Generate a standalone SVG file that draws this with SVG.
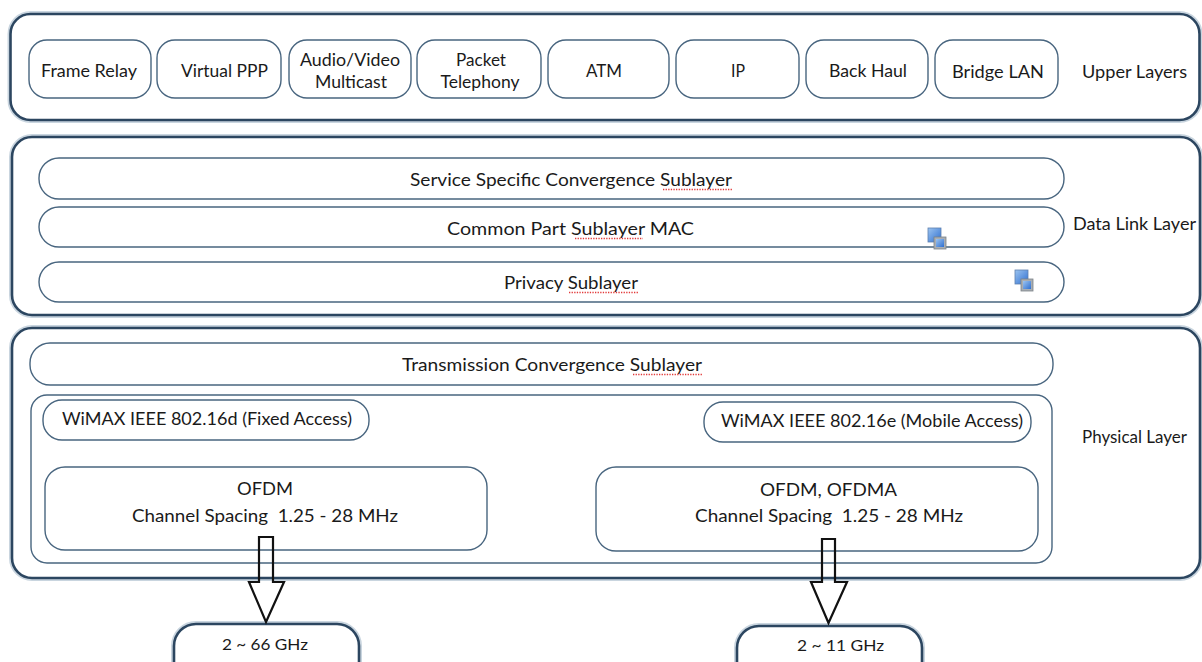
<svg xmlns="http://www.w3.org/2000/svg" width="1202" height="662" viewBox="0 0 1202 662">
<defs>
<style>
.outer{fill:#fff;stroke:#2c4660;stroke-width:2.6}
.glow{fill:none;stroke:#c9d5df;stroke-width:6}
.box{fill:#fff;stroke:#48657f;stroke-width:1.4}
.t{font-family:Lato,"Open Sans","Noto Sans",sans-serif;fill:#1a1a1a;text-anchor:middle;font-size:17px}
.tu{font-size:18px}
.tb{font-size:16px}
.sq{stroke:#e23a3a;stroke-width:1.3;stroke-dasharray:1.3 1.3;fill:none}
.arrow{fill:none;stroke:#111;stroke-width:2.2;stroke-linejoin:miter}
</style>
<linearGradient id="ib" x1="0" y1="0" x2="1" y2="1">
<stop offset="0" stop-color="#9cc4f0"/><stop offset="1" stop-color="#2f6fd0"/>
</linearGradient>
<g id="icon">
<rect x="0" y="0" width="13" height="14" fill="url(#ib)" stroke="#5d7fae" stroke-width="0.8"/>
<rect x="6" y="9" width="12" height="12" fill="#a9aeb3" stroke="#7c8287" stroke-width="0.8"/>
<rect x="8" y="11" width="8" height="8" fill="url(#ib)"/>
</g>
</defs>
<rect width="1202" height="662" fill="#fff"/>

<g id="upper-layers">
<rect class="glow" x="10.5" y="14" width="1189" height="106" rx="20"/>
<rect class="outer" x="10.5" y="14" width="1189" height="106" rx="20"/>
<text class="t" x="1134.5" y="78" textLength="105" lengthAdjust="spacingAndGlyphs">Upper Layers</text>
</g>
<g id="frame-relay"><rect class="box" x="29" y="40" width="122" height="58" rx="18"/><text class="t tu" x="89" y="77" textLength="96" lengthAdjust="spacingAndGlyphs">Frame Relay</text></g>
<g id="virtual-ppp"><rect class="box" x="157" y="40" width="124" height="58" rx="18"/><text class="t tu" x="224.5" y="77" textLength="87" lengthAdjust="spacingAndGlyphs">Virtual PPP</text></g>
<g id="audio-video"><rect class="box" x="289" y="40" width="122" height="58" rx="18"/><text class="t tu" x="350" y="66" textLength="100" lengthAdjust="spacingAndGlyphs">Audio/Video</text><text class="t" x="351" y="88" textLength="72" lengthAdjust="spacingAndGlyphs">Multicast</text></g>
<g id="packet-telephony"><rect class="box" x="417" y="40" width="124" height="58" rx="18"/><text class="t tu" x="481" y="66" textLength="50" lengthAdjust="spacingAndGlyphs">Packet</text><text class="t" x="480" y="88" textLength="79" lengthAdjust="spacingAndGlyphs">Telephony</text></g>
<g id="atm"><rect class="box" x="548" y="40" width="121" height="58" rx="18"/><text class="t tu" x="604" y="77" textLength="36" lengthAdjust="spacingAndGlyphs">ATM</text></g>
<g id="ip"><rect class="box" x="676" y="40" width="123" height="58" rx="18"/><text class="t tu" x="738" y="77" textLength="14" lengthAdjust="spacingAndGlyphs">IP</text></g>
<g id="back-haul"><rect class="box" x="806" y="40" width="122" height="58" rx="18"/><text class="t tu" x="868" y="77" textLength="78" lengthAdjust="spacingAndGlyphs">Back Haul</text></g>
<g id="bridge-lan"><rect class="box" x="935" y="40" width="123" height="58" rx="18"/><text class="t tu" x="998" y="78" textLength="92" lengthAdjust="spacingAndGlyphs">Bridge LAN</text></g>

<g id="data-link-layer">
<rect class="glow" x="12" y="137" width="1188" height="178" rx="20"/>
<rect class="outer" x="12" y="137" width="1188" height="178" rx="20"/>
<text class="t" x="1134.5" y="230" textLength="123" lengthAdjust="spacingAndGlyphs">Data Link Layer</text>
</g>
<g id="service-specific"><rect class="box" x="39" y="158" width="1025" height="41" rx="20"/><text class="t" x="571" y="186" textLength="322" lengthAdjust="spacingAndGlyphs">Service Specific Convergence Sublayer</text><path class="sq" d="M663 189.5H732"/></g>
<g id="common-part"><rect class="box" x="39" y="207" width="1025" height="40" rx="20"/><text class="t" x="570.5" y="235" textLength="247" lengthAdjust="spacingAndGlyphs">Common Part Sublayer MAC</text><path class="sq" d="M575 238.5H643"/><use href="#icon" x="928" y="228"/></g>
<g id="privacy"><rect class="box" x="39" y="262" width="1025" height="40" rx="20"/><text class="t" x="571" y="289" textLength="134" lengthAdjust="spacingAndGlyphs">Privacy Sublayer</text><path class="sq" d="M569 292.5H638"/><use href="#icon" x="1015" y="270"/></g>

<g id="physical-layer">
<rect class="glow" x="12" y="328" width="1188" height="250" rx="20"/>
<rect class="outer" x="12" y="328" width="1188" height="250" rx="20"/>
<text class="t" x="1134.5" y="443" textLength="105" lengthAdjust="spacingAndGlyphs">Physical Layer</text>
</g>
<g id="transmission"><rect class="box" x="30" y="343" width="1023" height="42" rx="20"/><text class="t" x="552" y="371" textLength="300" lengthAdjust="spacingAndGlyphs">Transmission Convergence Sublayer</text><path class="sq" d="M633 374.5H702"/></g>
<g id="wimax-group"><rect class="box" x="31" y="395" width="1021" height="168" rx="16"/></g>
<g id="wimax-fixed"><rect class="box" x="43" y="400" width="326" height="40" rx="19"/><text class="t" x="207" y="425" textLength="290" lengthAdjust="spacingAndGlyphs">WiMAX IEEE 802.16d (Fixed Access)</text></g>
<g id="wimax-mobile"><rect class="box" x="704" y="402" width="327" height="40" rx="19"/><text class="t" x="872" y="427" textLength="302" lengthAdjust="spacingAndGlyphs">WiMAX IEEE 802.16e (Mobile Access)</text></g>
<g id="ofdm"><rect class="box" x="45" y="467" width="442" height="83" rx="20"/><text class="t" x="265" y="495" textLength="56" lengthAdjust="spacingAndGlyphs">OFDM</text><text class="t" x="265" y="522" xml:space="preserve" textLength="266" lengthAdjust="spacingAndGlyphs">Channel Spacing  1.25 - 28 MHz</text></g>
<g id="ofdma"><rect class="box" x="596" y="467" width="442" height="84" rx="20"/><text class="t" x="828.5" y="496" textLength="137" lengthAdjust="spacingAndGlyphs">OFDM, OFDMA</text><text class="t" x="829" y="522" xml:space="preserve" textLength="268" lengthAdjust="spacingAndGlyphs">Channel Spacing  1.25 - 28 MHz</text></g>

<g id="band-66"><rect class="glow" x="174" y="624" width="185" height="70" rx="22"/><rect class="outer" x="174" y="624" width="185" height="70" rx="22"/><text class="t tb" x="265" y="650" textLength="86" lengthAdjust="spacingAndGlyphs">2 ~ 66 GHz</text></g>
<g id="band-11"><rect class="glow" x="737" y="626" width="185" height="70" rx="22"/><rect class="outer" x="737" y="626" width="185" height="70" rx="22"/><text class="t tb" x="840.5" y="651" textLength="87" lengthAdjust="spacingAndGlyphs">2 ~ 11 GHz</text></g>

<g id="connectors">
<path class="arrow" d="M259 537H273V582H284L266 622L249 582H259Z"/>
<path class="arrow" d="M822 539H835V582H847L828.5 623L811 582H822Z"/>
</g>
</svg>
